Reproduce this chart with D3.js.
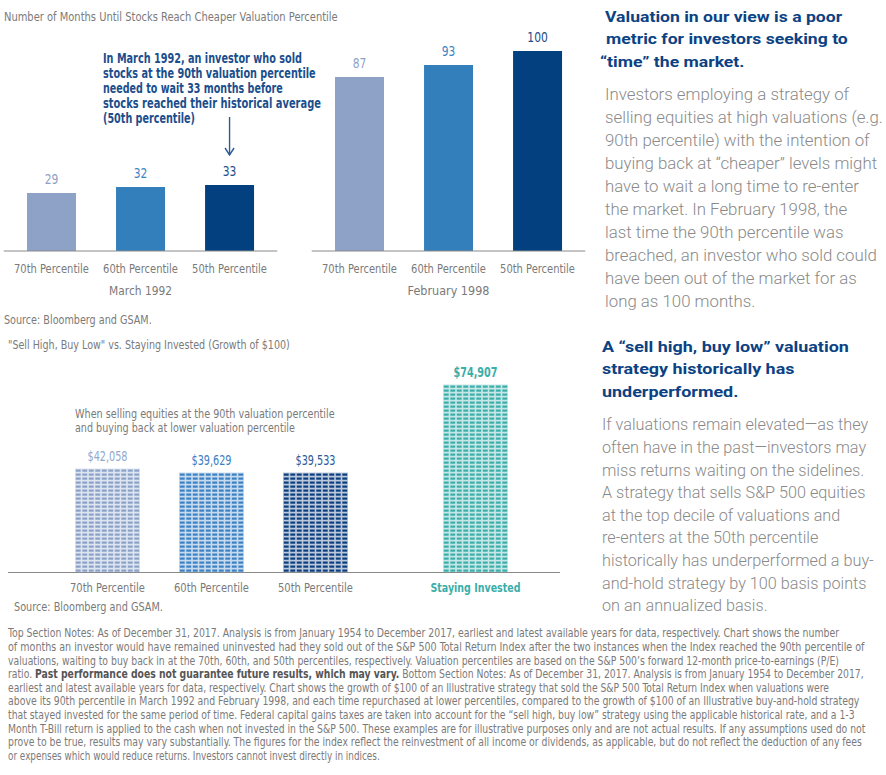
<!DOCTYPE html>
<html>
<head>
<meta charset="utf-8">
<script src="https://cdn.jsdelivr.net/npm/d3@7"></script>
<style>
  body { margin: 0; background: #fff; }
  svg text { font-family: 'Liberation Sans Narrow', 'Arial Narrow', 'DejaVu Sans Condensed', sans-serif; font-stretch: condensed; }
  .side text { font-family: Roboto, 'Liberation Sans', sans-serif; font-stretch: normal; }
</style>
</head>
<body>
<div class="valuation-page"></div>
<script>
// Data
const topCategories = ['70th Percentile', '60th Percentile', '50th Percentile'];
const march1992Months = [29, 32, 33];
const feb1998Months = [87, 93, 100];
const topColors = ['#8da2c6', '#337fbb', '#02407f'];
const topLabelColors = ['#8da2c6', '#3d84c4', '#1d4f8c'];

const growthCategories = ['70th Percentile', '60th Percentile', '50th Percentile', 'Staying Invested'];
const growthValues = [42058, 39629, 39533, 74907];
const growthColors = ['#8aa1c8', '#3a80c3', '#0c3e7f', '#3aaeaa'];
const growthLabelColors = ['#90a8cd', '#3a80c3', '#2a5a96', '#3aaeaa'];

const annotationLines = [
	'In March 1992, an investor who sold',
	'stocks at the 90th valuation percentile',
	'needed to wait 33 months before',
	'stocks reached their historical average',
	'(50th percentile)'
];
const heading1 = ['Valuation in our view is a poor', 'metric for investors seeking to', '\u201Ctime\u201D the market.'];
const body1 = [
	'Investors employing a strategy of',
	'selling equities at high valuations (e.g.',
	'90th percentile) with the intention of',
	'buying back at \u201Ccheaper\u201D levels might',
	'have to wait a long time to re-enter',
	'the market. In February 1998, the',
	'last time the 90th percentile was',
	'breached, an investor who sold could',
	'have been out of the market for as',
	'long as 100 months.'
];
const heading2 = ['A \u201Csell high, buy low\u201D valuation', 'strategy historically has', 'underperformed.'];
const body2 = [
	'If valuations remain elevated\u2014as they',
	'often have in the past\u2014investors may',
	'miss returns waiting on the sidelines.',
	'A strategy that sells S&P 500 equities',
	'at the top decile of valuations and',
	're-enters at the 50th percentile',
	'historically has underperformed a buy-',
	'and-hold strategy by 100 basis points',
	'on an annualized basis.'
];
// footnote lines, bold parts wrapped in **
const notes = [
	'Top Section Notes: As of December 31, 2017. Analysis is from January 1954 to December 2017, earliest and latest available years for data, respectively. Chart shows the number',
	'of months an investor would have remained uninvested had they sold out of the S&P 500 Total Return Index after the two instances when the Index reached the 90th percentile of',
	'valuations, waiting to buy back in at the 70th, 60th, and 50th percentiles, respectively. Valuation percentiles are based on the S&P 500\u2019s forward 12-month price-to-earnings (P/E)',
	'ratio. **Past performance does not guarantee future results, which may vary.** Bottom Section Notes: As of December 31, 2017. Analysis is from January 1954 to December 2017,',
	'earliest and latest available years for data, respectively. Chart shows the growth of $100 of an Illustrative strategy that sold the S&P 500 Total Return Index when valuations were',
	'above its 90th percentile in March 1992 and February 1998, and each time repurchased at lower percentiles, compared to the growth of $100 of an Illustrative buy-and-hold strategy',
	'that stayed invested for the same period of time. Federal capital gains taxes are taken into account for the \u201Csell high, buy low\u201D strategy using the applicable historical rate, and a 1-3',
	'Month T-Bill return is applied to the cash when not invested in the S&P 500. These examples are for illustrative purposes only and are not actual results. If any assumptions used do not',
	'prove to be true, results may vary substantially. The figures for the index reflect the reinvestment of all income or dividends, as applicable, but do not reflect the deduction of any fees',
	'or expenses which would reduce returns. Investors cannot invest directly in indices.'
];
const noteEnds = [840, 865, 840, 865, 830, 860, 855, 866, 863, 380];

const width = 886;
const height = 775;
const svg = d3.select('.valuation-page')
	.append('svg')
	.attr('width', width)
	.attr('height', height);

const gray = '#7a7a7a';
const navy = '#0b4283';

//squeeze a text horizontally around its anchor x so it is w wide
function squeeze(t, w) {
	const x = +t.attr('x');
	const nat = t.node().getComputedTextLength();
	const k = w / nat;
	t.attr('transform', `translate(${x},0) scale(${k},1) translate(${-x},0)`);
	return t;
}

//helper for a line of text, optionally squeezed to a width
function txt(g, x, y, s, o) {
	o = o || {};
	const t = g.append('text')
		.attr('x', x).attr('y', y)
		.attr('font-size', o.size || 12.5)
		.attr('fill', o.fill || gray)
		.attr('font-weight', o.weight || 400)
		.attr('text-anchor', o.anchor || 'start')
		.text(s);
	if (o.w) squeeze(t, o.w);
	return t;
}

//block of lines scaled so its widest line has width maxW
function block(g, x, y0, step, lines, o, maxW, xs) {
	const ts = lines.map((s, i) => txt(g, xs ? xs[i] : x, y0 + i * step, s, o));
	const nat = ts.map(t => t.node().getComputedTextLength());
	const k = maxW / d3.max(nat);
	ts.forEach((t, i) => squeeze(t, nat[i] * k));
}

////// Top charts: months until cheaper valuation
txt(svg, 4, 21, 'Number of Months Until Stocks Reach Cheaper Valuation Percentile', {w: 334});

const yTop = d3.scaleLinear().domain([0, 100]).range([251, 51]);

function monthsChart(data, r0, r1, label) {
	const x = d3.scaleBand().domain(topCategories).range([r0, r1])
		.paddingInner(0.45).paddingOuter(0.25);
	const g = svg.append('g');
	g.selectAll('rect')
		.data(data)
		.enter()
		.append('rect')
		.attr('x', (d, i) => x(topCategories[i]))
		.attr('width', x.bandwidth())
		.attr('y', d => yTop(d))
		.attr('height', d => yTop(0) - yTop(d))
		.attr('fill', (d, i) => topColors[i]);
	data.forEach((d, i) => {
		const t = txt(g, x(topCategories[i]) + x.bandwidth() / 2, yTop(d) - 9, d, {
			anchor: 'middle', size: 14, fill: topLabelColors[i]
		});
		squeeze(t, t.node().getComputedTextLength() * 0.85);
	});
	g.append('line')
		.attr('x1', r0 - 1).attr('x2', r1 + 1)
		.attr('y1', yTop(0)).attr('y2', yTop(0))
		.attr('stroke', '#8a8a8a').attr('stroke-width', 1.2);
	topCategories.forEach(c => {
		txt(g, x(c) + x.bandwidth() / 2, 273, c, {anchor: 'middle', size: 13, w: 75});
	});
	txt(g, (r0 + r1) / 2, 295, label, {anchor: 'middle', size: 13, w: label.length * 6.3});
	return x;
}
const xMarch = monthsChart(march1992Months, 4.75, 276.3, 'March 1992');
monthsChart(feb1998Months, 312.75, 584.3, 'February 1998');

//annotation
const ann = svg.append('g');
annotationLines.forEach((s, i) => {
	const w = [199, 213, 180, 218, 92][i];
	txt(ann, 103, 63 + i * 15, s, {size: 13.5, weight: 700, fill: '#1b4e8c', w: w});
});
const ax = xMarch('50th Percentile') + xMarch.bandwidth() / 2;
ann.append('line').attr('x1', ax).attr('x2', ax).attr('y1', 117).attr('y2', 155)
	.attr('stroke', '#2c5a92').attr('stroke-width', 1.4);
ann.append('path')
	.attr('d', `M${ax - 4.5},${148} L${ax},${155} L${ax + 4.5},${148}`)
	.attr('fill', 'none').attr('stroke', '#2c5a92').attr('stroke-width', 1.4);

txt(svg, 4, 324, 'Source: Bloomberg and GSAM.', {w: 148});

////// Bottom chart: growth of $100
txt(svg, 8, 349.5, '"Sell High, Buy Low" vs. Staying Invested (Growth of $100)', {w: 282});
txt(svg, 75, 418, 'When selling equities at the 90th valuation percentile', {w: 260});
txt(svg, 75, 432.5, 'and buying back at lower valuation percentile', {w: 220});

const yG = d3.scaleLinear().domain([0, 42058]).range([572.5, 467]);
const xSell = d3.scaleBand().domain(growthCategories.slice(0, 3)).range([23, 400])
	.paddingInner(0.375).paddingOuter(0.5);
const xStay = d3.scaleBand().domain(growthCategories.slice(3)).range([391, 560])
	.paddingInner(0.375).paddingOuter(0.5);
const xG = c => (xSell.domain().includes(c) ? xSell(c) : xStay(c));
const bw = xSell.bandwidth();

const cols = 10;
const rowH = 4;
const gb = svg.append('g');
growthValues.forEach((v, i) => {
	const c = growthCategories[i];
	const bx = xG(c);
	const hgt = yG(0) - yG(v);
	const rows = Math.round(hgt / rowH);
	const colW = bw / cols;
	const pale = d3.interpolateRgb(growthColors[i], '#ffffff')(0.72);
	gb.append('rect')
		.attr('x', bx).attr('width', bw)
		.attr('y', yG(0) - rows * rowH).attr('height', rows * rowH)
		.attr('fill', pale);
	const cells = d3.cross(d3.range(rows), d3.range(cols));
	gb.selectAll(null)
		.data(cells)
		.enter()
		.append('rect')
		.attr('x', d => bx + d[1] * colW + 0.8)
		.attr('width', colW - 1.6)
		.attr('y', d => yG(0) - (d[0] + 1) * rowH + 1)
		.attr('height', 2.2)
		.attr('fill', growthColors[i]);
	txt(gb, bx + bw / 2, yG(0) - rows * rowH - 7, d3.format('$,')(v), {
		anchor: 'middle', size: 14, fill: growthLabelColors[i], weight: i === 3 ? 700 : 400,
		w: i === 3 ? 44 : 40
	});
	txt(gb, bx + bw / 2, 592, c, {
		anchor: 'middle', size: 13, w: i === 3 ? 90 : 75,
		fill: i === 3 ? '#3aaeaa' : gray, weight: i === 3 ? 700 : 400
	});
});
gb.append('line')
	.attr('x1', 8).attr('x2', 560)
	.attr('y1', yG(0)).attr('y2', yG(0))
	.attr('stroke', '#8a8a8a').attr('stroke-width', 1.2);

txt(svg, 14, 611, 'Source: Bloomberg and GSAM.', {w: 149});

////// Notes
const gn = svg.append('g');
notes.forEach((s, i) => {
	const t = gn.append('text')
		.attr('x', 8).attr('y', 637.5 + i * 13.6)
		.attr('font-size', 12)
		.attr('fill', gray);
	s.split('**').forEach((part, j) => {
		t.append('tspan')
			.attr('font-weight', j % 2 ? 700 : 400)
			.attr('fill', j % 2 ? '#555' : gray)
			.text(part);
	});
	squeeze(t, noteEnds[i] - 8);
});

////// Side text
const side = svg.append('g').attr('class', 'side');
block(side, 605, 22, 22.5, heading1, {size: 15, weight: 700, fill: navy}, 242, [605, 606, 600]);
block(side, 605, 100.5, 23, body1, {size: 16, weight: 300, fill: '#8a8a8a'}, 278);
block(side, 602, 352, 22.5, heading2, {size: 15, weight: 700, fill: navy}, 247);
block(side, 602, 430.5, 22.6, body2, {size: 16, weight: 300, fill: '#8a8a8a'}, 272);
</script>
</body>
</html>
